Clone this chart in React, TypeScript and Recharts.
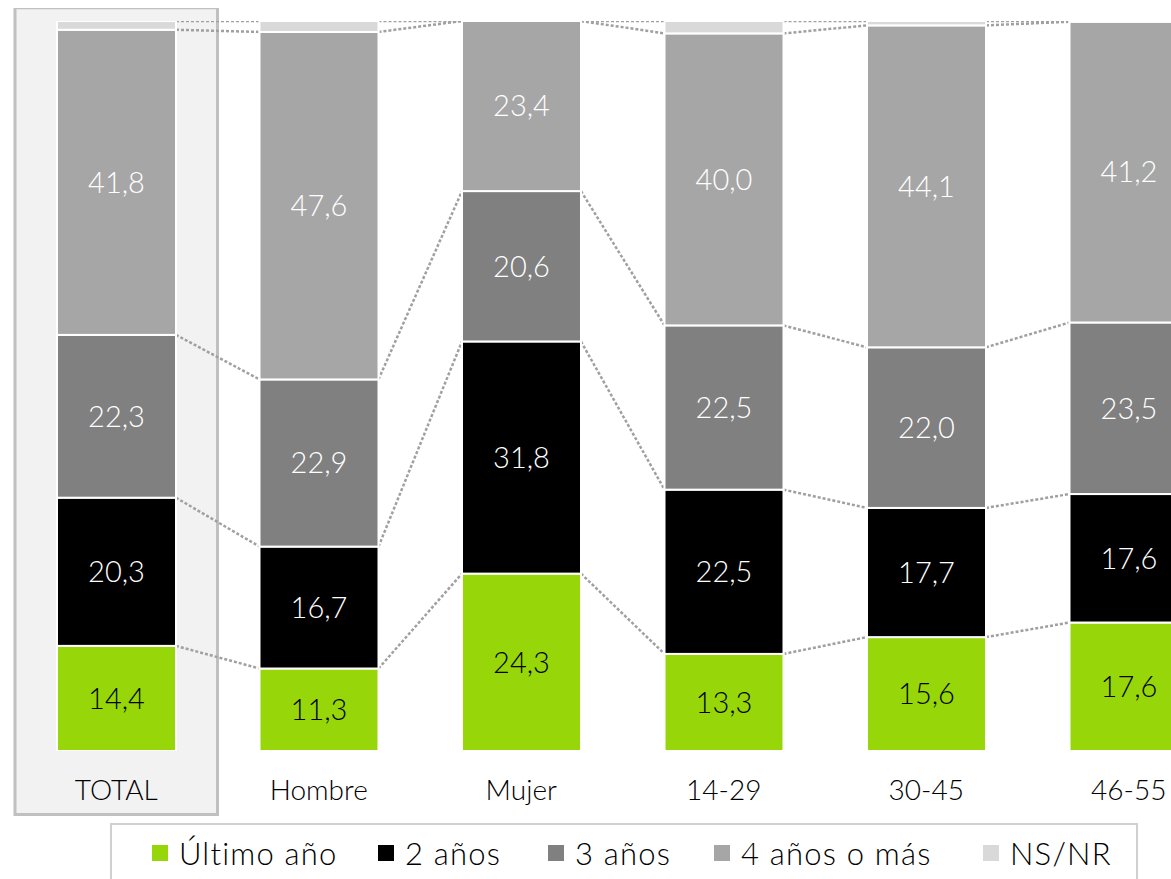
import { BarChart, Bar, XAxis, YAxis, Legend, LabelList, ReferenceArea } from 'recharts';

const categories = ['TOTAL', 'Hombre', 'Mujer', '14-29', '30-45', '46-55'];
const ultimoAnio = [14.4, 11.3, 24.3, 13.3, 15.6, 17.6];
const dosAnios = [20.3, 16.7, 31.8, 22.5, 17.7, 17.6];
const tresAnios = [22.3, 22.9, 20.6, 22.5, 22.0, 23.5];
const cuatroAnios = [41.8, 47.6, 23.4, 40.0, 44.1, 41.2];
const nsnr = [1.2, 1.5, 0, 1.7, 0.6, 0.1];

const seriesKeys = ['ultimo', 'dos', 'tres', 'cuatro', 'nsnr'];
const seriesNames = ['Último año', '2 años', '3 años', '4 años o más', 'NS/NR'];
const seriesColors = ['#97D70A', '#000000', '#808080', '#A6A6A6', '#D9D9D9'];
const seriesValues = [ultimoAnio, dosAnios, tresAnios, cuatroAnios, nsnr];

const data = categories.map((name, i) => ({
  name,
  ultimo: ultimoAnio[i],
  dos: dosAnios[i],
  tres: tresAnios[i],
  cuatro: cuatroAnios[i],
  nsnr: nsnr[i],
}));

const FONT = 'Lato, "Open Sans", sans-serif';
const MARGIN = { top: 13, right: 0, left: 7, bottom: 0 };
const CHART_W = 1222;
const CHART_H = 875;
const STEP = (CHART_W - MARGIN.left - MARGIN.right) / categories.length;
// left offset of each legend entry inside the box
const LEGEND_X = [40, 266, 436, 602, 871];

const fmt = (v: any) => (v > 0 ? Number(v).toFixed(1).replace('.', ',') : '');

// cumulative top of series j in category i
const cumTop = (i: number, j: number) => {
  let s = 0;
  for (let k = 0; k <= j; k++) s += seriesValues[k][i];
  return Math.min(100, s);
};

const PlainBar = (props: any) => {
  const { x, y, width, height, fill } = props;
  if (!height || height <= 0) return null;
  return <rect x={x} y={y} width={width} height={height} fill={fill} stroke="#fff" strokeWidth={2} />;
};

// bottom segment also draws the dotted connectors to the next column
const GreenBar = (props: any) => {
  const { x, y, width, height, fill, index } = props;
  const k = height / ultimoAnio[index];
  const base = y + height;
  const lines = [];
  if (index < categories.length - 1) {
    for (let j = 0; j < seriesKeys.length; j++) {
      lines.push(
        <line
          key={j}
          x1={x + width}
          y1={base - cumTop(index, j) * k}
          x2={x + STEP}
          y2={base - cumTop(index + 1, j) * k}
          stroke="#A0A0A0"
          strokeWidth={2.5}
          strokeDasharray="3 2"
        />
      );
    }
  }
  return (
    <g>
      {lines}
      <rect x={x} y={y} width={width} height={height} fill={fill} stroke="#fff" strokeWidth={2} />
    </g>
  );
};

const LegendBox = () => (
  <div
    style={{
      boxSizing: 'border-box',
      position: 'relative',
      height: 60,
      border: '2px solid #D0D0D0',
      fontFamily: FONT,
      fontSize: 31,
      fontWeight: 300,
      letterSpacing: 1.2,
      color: '#000',
    }}
  >
    {seriesNames.map((n, i) => (
      <div
        key={n}
        style={{ position: 'absolute', left: LEGEND_X[i], top: 0, height: 56, display: 'flex', alignItems: 'center', whiteSpace: 'nowrap' }}
      >
        <span style={{ width: 16, height: 16, background: seriesColors[i], marginRight: 11, display: 'inline-block' }} />
        <span>{n}</span>
      </div>
    ))}
  </div>
);

export default function App() {
  return (
    <div style={{ width: 1171, height: 879, overflow: 'hidden', fontFamily: FONT }}>
      <style>{'html, body { margin: 0; overflow: hidden; }'}</style>
      <div style={{ paddingLeft: 8, paddingTop: 8 }}>
        <BarChart width={CHART_W} height={CHART_H} data={data} margin={MARGIN} barSize={119}>
          <ReferenceArea
            x1="TOTAL"
            x2="TOTAL"
            y1={-8.7}
            y2={101.8}
            ifOverflow="visible"
            fill="#F2F2F2"
            fillOpacity={1}
            stroke="#C0C0C0"
            strokeWidth={3}
          />
          <XAxis
            dataKey="name"
            axisLine={false}
            tickLine={false}
            tickSize={0}
            tickMargin={29}
            height={72}
            interval={0}
            tick={{ fill: '#000', fontSize: 28, fontWeight: 300, fontFamily: FONT }}
          />
          <YAxis hide domain={[0, 100]} allowDataOverflow />
          <Legend
            verticalAlign="bottom"
            align="left"
            content={LegendBox}
            wrapperStyle={{ left: 102, width: 1028, height: 60 }}
          />
          {seriesKeys.map((key, j) => (
            <Bar
              key={key}
              dataKey={key}
              name={seriesNames[j]}
              stackId="a"
              fill={seriesColors[j]}
              isAnimationActive={false}
              shape={j === 0 ? GreenBar : PlainBar}
            >
              {j < 4 && (
                <LabelList
                  dataKey={key}
                  position="center"
                  formatter={fmt}
                  fill={j === 0 ? '#000' : '#fff'}
                  fontSize={29}
                  fontWeight={300}
                  fontFamily={FONT}
                />
              )}
            </Bar>
          ))}
        </BarChart>
      </div>
    </div>
  );
}
